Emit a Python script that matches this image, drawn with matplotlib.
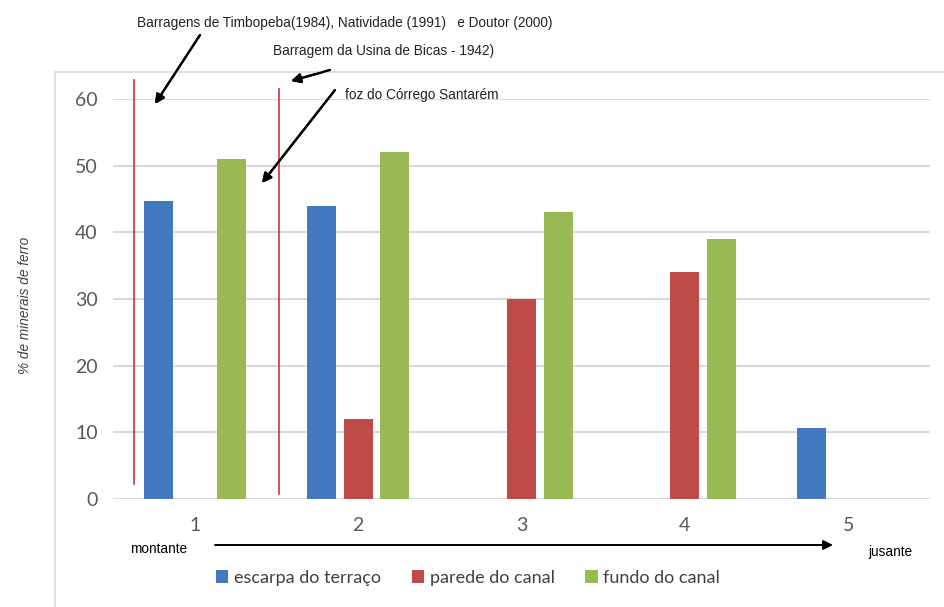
import numpy as np
import matplotlib.pyplot as plt
from matplotlib.patches import Rectangle

# pontos de amostragem (montante -> jusante)
pontos = [1, 2, 3, 4, 5]
escarpa = [44.7, 44, 0, 0, 10.7]
parede = [0, 12, 30, 34, 0]
fundo = [51, 52, 43, 39, 0]
series = ["escarpa do terraço", "parede do canal", "fundo do canal"]
cores = ["#4178BE", "#BE4B48", "#98B954"]

W, H = 944, 607
fig = plt.figure(figsize=(W / 100, H / 100), dpi=100)
ax = fig.add_axes([113 / W, 1 - 499 / H, 817 / W, 400 / H])

def fx(px):
    return px / W

def fy(py):
    return 1 - py / H

# moldura da area do grafico
fig.patches.append(Rectangle((fx(55), -0.05), 1.1, fy(72) + 0.05, transform=fig.transFigure,
                             fill=False, edgecolor="#D9D9D9", lw=1.2))

x = np.array(pontos, dtype=float)
larg = 0.178
desl = 0.224
for i, (vals, cor, nome) in enumerate(zip([escarpa, parede, fundo], cores, series)):
    v = np.array(vals)
    m = v > 0
    ax.bar(x[m] + (i - 1) * desl, v[m], width=larg, color=cor, label=nome, zorder=3)

ax.set_xlim(0.5, 5.5)
ax.set_ylim(0, 60)
ax.set_yticks(range(0, 61, 10))
ax.grid(axis="y", color="#D9D9D9", lw=1.5, zorder=0)
for s in ax.spines.values():
    s.set_visible(False)
ax.tick_params(axis="y", length=0, pad=11, labelsize=14, labelcolor="#595959")
ax.tick_params(axis="x", length=0, pad=13, labelsize=14, labelcolor="#595959")
for lab in ax.get_yticklabels():
    lab.set_family("Lato")
ax.set_xticks(pontos)
ax.set_xticklabels([str(p) for p in pontos], family="Lato")

# linhas das barragens
ax.plot([0.626, 0.626], [2.2, 62.8], color="#D0303A", lw=1.2, clip_on=False, zorder=4)
ax.plot([1.515, 1.515], [0.7, 61.5], color="#D0303A", lw=1.2, clip_on=False, zorder=4)

fonte = "Liberation Sans"
fig.text(fx(345), fy(23), "Barragens de Timbopeba(1984), Natividade (1991)   e Doutor (2000)",
         ha="center", va="center", fontsize=9.8, family=fonte, color="#222222")
fig.text(fx(384), fy(51), "Barragem da Usina de Bicas - 1942)",
         ha="center", va="center", fontsize=9.8, family=fonte, color="#222222")
fig.text(fx(345), fy(95), "foz do Córrego Santarém",
         ha="left", va="center", fontsize=9.8, family=fonte, color="#222222")

seta = dict(arrowstyle="-|>", color="black", lw=1.6, mutation_scale=14, shrinkA=0, shrinkB=0)
for (x0, y0), (x1, y1) in [((200, 35), (155, 104)), ((330, 70), (291, 81)), ((335, 90), (262, 183))]:
    fig.add_artist(plt.annotate("", xy=(fx(x1), fy(y1)), xytext=(fx(x0), fy(y0)),
                                xycoords="figure fraction", textcoords="figure fraction",
                                arrowprops=seta))

fig.text(fx(25), fy(305), "% de minerais de ferro", rotation=90, ha="center", va="center",
         fontsize=9.8, family=fonte, style="italic", color="#404040")

# eixo montante -> jusante
ax.annotate("", xy=(fx(833), fy(545)), xytext=(fx(215), fy(545)),
            xycoords="figure fraction", textcoords="figure fraction",
            arrowprops=dict(arrowstyle="-|>", color="black", lw=1.4, mutation_scale=14,
                            shrinkA=0, shrinkB=0))
fig.text(fx(130), fy(549), "montante", ha="left", va="center", fontsize=9.8, family=fonte)
fig.text(fx(868), fy(552), "jusante", ha="left", va="center", fontsize=9.8, family=fonte)

fig.legend(loc="center", bbox_to_anchor=(fx(468), fy(578)), ncol=3, frameon=False,
           handlelength=0.7, handleheight=0.7, handletextpad=0.3, columnspacing=1.7,
           prop={"family": "Lato", "size": 13}, labelcolor="#404040")

fig.savefig("out.png", dpi=100)
